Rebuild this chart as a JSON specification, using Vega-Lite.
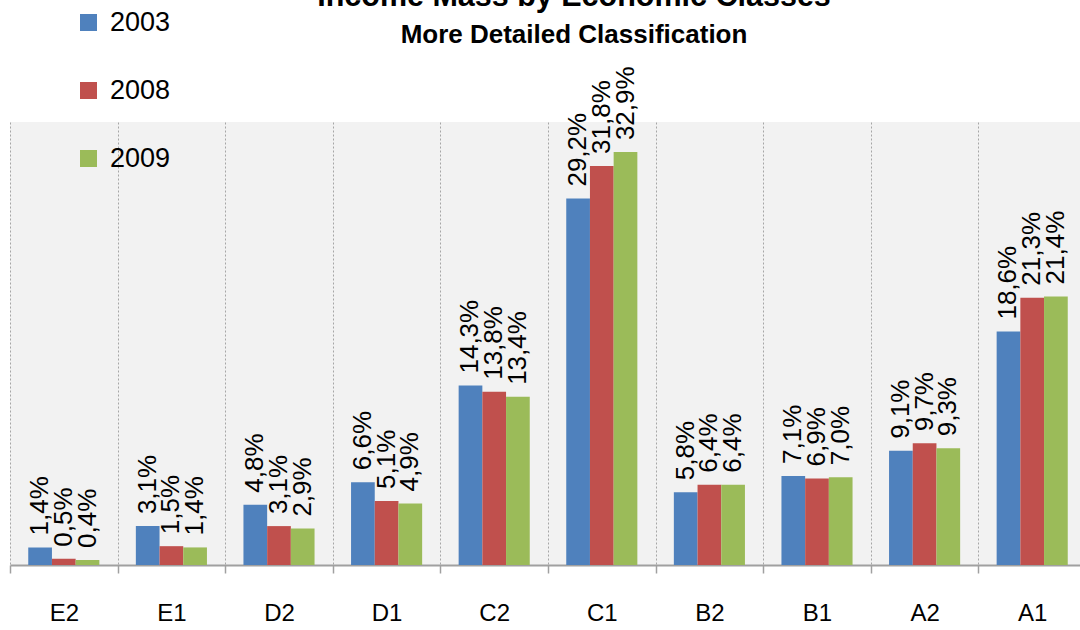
{
  "$schema": "https://vega.github.io/schema/vega-lite/v6.json",
  "width": 1070,
  "height": 443,
  "autosize": {"type": "none"},
  "padding": {"left": 10, "top": 122, "right": 0, "bottom": 65},
  "background": "white",
  "config": {
    "locale": {"number": {"decimal": ",", "thousands": ".", "grouping": [3], "currency": ["", " €"]}},
    "view": {"fill": "#f2f2f2", "stroke": null},
    "font": "Liberation Sans"
  },
  "title": {
    "text": "Income Mass by Economic Classes",
    "subtitle": "More Detailed Classification",
    "font": "Liberation Sans",
    "subtitleFont": "Liberation Sans",
    "fontSize": 30.5,
    "fontWeight": "bold",
    "subtitleFontSize": 26,
    "subtitleFontWeight": "bold",
    "color": "black",
    "subtitleColor": "black",
    "anchor": "middle",
    "dx": 29,
    "dy": 47,
    "offset": 8,
    "subtitlePadding": 10
  },
  "data": {
    "values": [
      {"class": "E2", "year": "2003", "share": 0.014},
      {"class": "E2", "year": "2008", "share": 0.005},
      {"class": "E2", "year": "2009", "share": 0.004},
      {"class": "E1", "year": "2003", "share": 0.031},
      {"class": "E1", "year": "2008", "share": 0.015},
      {"class": "E1", "year": "2009", "share": 0.014},
      {"class": "D2", "year": "2003", "share": 0.048},
      {"class": "D2", "year": "2008", "share": 0.031},
      {"class": "D2", "year": "2009", "share": 0.029},
      {"class": "D1", "year": "2003", "share": 0.066},
      {"class": "D1", "year": "2008", "share": 0.051},
      {"class": "D1", "year": "2009", "share": 0.049},
      {"class": "C2", "year": "2003", "share": 0.143},
      {"class": "C2", "year": "2008", "share": 0.138},
      {"class": "C2", "year": "2009", "share": 0.134},
      {"class": "C1", "year": "2003", "share": 0.292},
      {"class": "C1", "year": "2008", "share": 0.318},
      {"class": "C1", "year": "2009", "share": 0.329},
      {"class": "B2", "year": "2003", "share": 0.058},
      {"class": "B2", "year": "2008", "share": 0.064},
      {"class": "B2", "year": "2009", "share": 0.064},
      {"class": "B1", "year": "2003", "share": 0.071},
      {"class": "B1", "year": "2008", "share": 0.069},
      {"class": "B1", "year": "2009", "share": 0.070},
      {"class": "A2", "year": "2003", "share": 0.091},
      {"class": "A2", "year": "2008", "share": 0.097},
      {"class": "A2", "year": "2009", "share": 0.093},
      {"class": "A1", "year": "2003", "share": 0.186},
      {"class": "A1", "year": "2008", "share": 0.213},
      {"class": "A1", "year": "2009", "share": 0.214}
    ]
  },
  "encoding": {
    "x": {
      "field": "class",
      "type": "nominal",
      "sort": ["E2", "E1", "D2", "D1", "C2", "C1", "B2", "B1", "A2", "A1"],
      "scale": {"range": [0, 1076], "paddingInner": 0, "paddingOuter": 0},
      "axis": {
        "title": null,
        "labelAngle": 0,
        "labelFontSize": 24,
        "labelColor": "black",
        "labelPadding": 28,
        "tickBand": "extent",
        "tickSize": 8,
        "tickColor": "#a0a0a0",
        "tickWidth": 1.5,
        "domainColor": "#a0a0a0",
        "domainWidth": 2,
        "grid": true,
        "gridColor": "#a6a6a6",
        "gridDash": [2, 2],
        "gridWidth": 1
      }
    },
    "xOffset": {
      "field": "year",
      "type": "nominal",
      "scale": {"paddingOuter": 0.77, "paddingInner": 0}
    },
    "y": {
      "field": "share",
      "type": "quantitative",
      "scale": {"domain": [0, 0.353], "nice": false},
      "axis": null
    }
  },
  "layer": [
    {
      "mark": {"type": "bar"},
      "encoding": {
        "color": {
          "field": "year",
          "type": "nominal",
          "scale": {"domain": ["2003", "2008", "2009"], "range": ["#4f81bd", "#c0504d", "#9bbb59"]},
          "legend": {
            "title": null,
            "orient": "none",
            "legendX": 65,
            "legendY": -113,
            "symbolType": "square",
            "symbolSize": 289,
            "symbolStrokeWidth": 0,
            "labelFontSize": 27,
            "labelColor": "black",
            "labelOffset": 8,
            "rowPadding": 40
          }
        }
      }
    },
    {
      "mark": {"type": "text", "angle": 270, "align": "left", "baseline": "middle", "dx": 12, "fontSize": 26, "color": "black"},
      "encoding": {
        "text": {"field": "share", "type": "quantitative", "format": ".1%"}
      }
    }
  ]
}
